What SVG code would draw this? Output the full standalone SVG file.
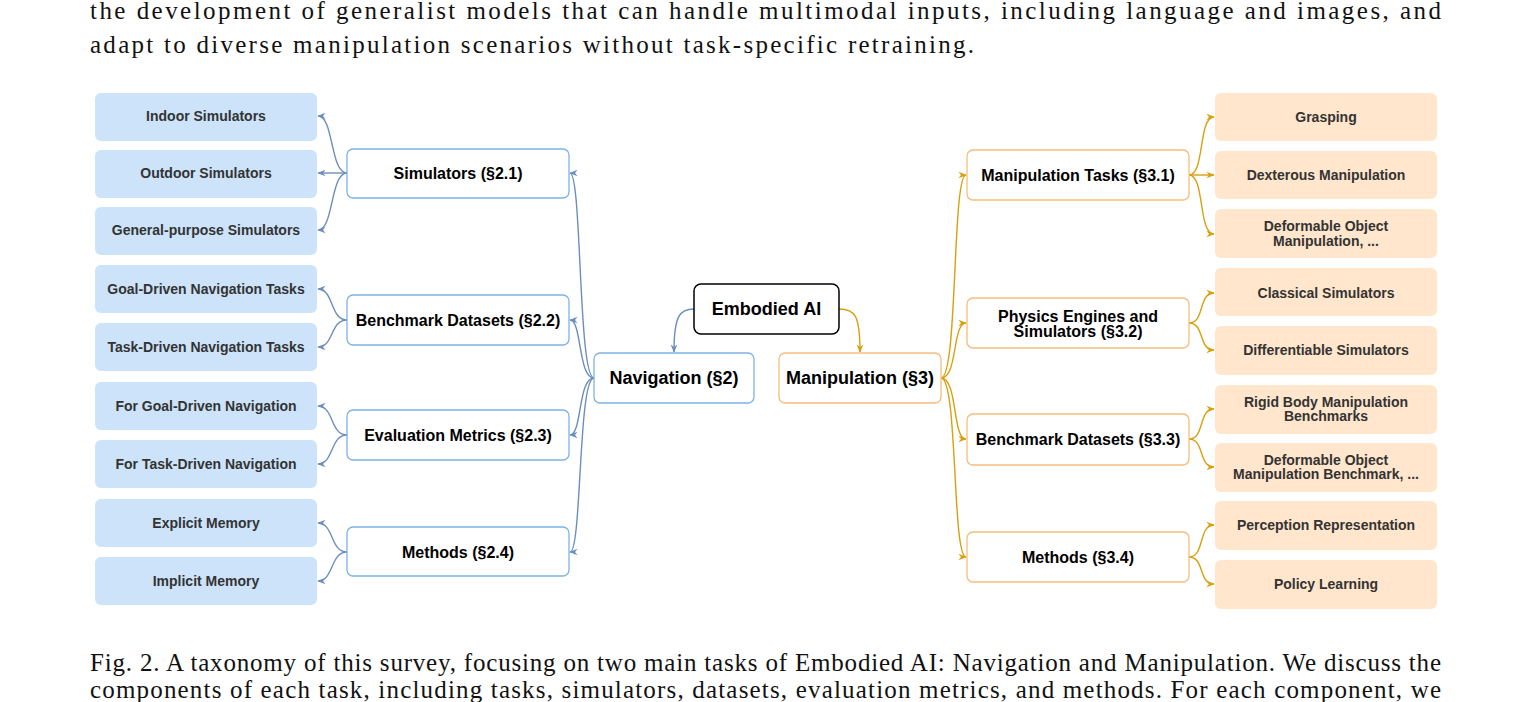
<svg xmlns="http://www.w3.org/2000/svg" width="1532" height="702" viewBox="0 0 1532 702">
<style>
.body{font-family:"Liberation Serif",serif;font-size:25px;fill:#111}
.t{font-family:"Liberation Sans",Arial,sans-serif;font-weight:bold;text-anchor:middle;dominant-baseline:central}
.lf{font-size:14px;fill:#333}
.md{font-size:16px;fill:#000}
.bl{fill:#cce3fa;stroke:none}
.ol{fill:#ffe6cc;stroke:none}
.bm{fill:#fff;stroke:#7eb3e6;stroke-width:1.3}
.om{fill:#fff;stroke:#f5bd7c;stroke-width:1.3}
.cb{fill:none;stroke:#6c8ebf;stroke-width:1.4}
.co{fill:none;stroke:#d6a10f;stroke-width:1.4}
</style>
<defs>
<marker id="ab" viewBox="0 0 10 10" refX="9" refY="5" markerWidth="6" markerHeight="6" orient="auto"><path d="M0,1 L10,5 L0,9 L3,5z" fill="#6c8ebf"/></marker>
<marker id="ao" viewBox="0 0 10 10" refX="9" refY="5" markerWidth="6" markerHeight="6" orient="auto"><path d="M0,1 L10,5 L0,9 L3,5z" fill="#d6a10f"/></marker>
</defs>
<text class="body" x="90" y="19" textLength="1351" lengthAdjust="spacing">the development of generalist models that can handle multimodal inputs, including language and images, and</text>
<text class="body" x="90" y="53" textLength="884" lengthAdjust="spacing">adapt to diverse manipulation scenarios without task-specific retraining.</text>
<text class="body" x="90" y="671" textLength="1351" lengthAdjust="spacing">Fig. 2.  A taxonomy of this survey, focusing on two main tasks of Embodied AI: Navigation and Manipulation. We discuss the</text>
<text class="body" x="90" y="698" textLength="1351" lengthAdjust="spacing">components of each task, including tasks, simulators, datasets, evaluation metrics, and methods. For each component, we</text>

<g id="connectors">
<path class="cb" d="M694,309 C680,309 674,315 674,352" marker-end="url(#ab)"/>
<path class="co" d="M839,309 C855,309 860,315 860,352" marker-end="url(#ao)"/>
<path class="cb" d="M594,378 C578,378 582,173 570,173" marker-end="url(#ab)"/>
<path class="cb" d="M594,378 C578,378 582,320 570,320" marker-end="url(#ab)"/>
<path class="cb" d="M594,378 C578,378 582,435 570,435" marker-end="url(#ab)"/>
<path class="cb" d="M594,378 C578,378 582,552 570,552" marker-end="url(#ab)"/>
<path class="cb" d="M347,173 C330,173 334,116 318,116" marker-end="url(#ab)"/>
<path class="cb" d="M347,173 L318,173" marker-end="url(#ab)"/>
<path class="cb" d="M347,173 C330,173 334,230 318,230" marker-end="url(#ab)"/>
<path class="cb" d="M347,320 C330,320 334,289 318,289" marker-end="url(#ab)"/>
<path class="cb" d="M347,320 C330,320 334,347 318,347" marker-end="url(#ab)"/>
<path class="cb" d="M347,435 C330,435 334,406 318,406" marker-end="url(#ab)"/>
<path class="cb" d="M347,435 C330,435 334,464 318,464" marker-end="url(#ab)"/>
<path class="cb" d="M347,552 C330,552 334,523 318,523" marker-end="url(#ab)"/>
<path class="cb" d="M347,552 C330,552 334,581 318,581" marker-end="url(#ab)"/>
<path class="co" d="M941,378 C958,378 952,175 966,175" marker-end="url(#ao)"/>
<path class="co" d="M941,378 C958,378 952,323 966,323" marker-end="url(#ao)"/>
<path class="co" d="M941,378 C958,378 952,439 966,439" marker-end="url(#ao)"/>
<path class="co" d="M941,378 C958,378 952,557 966,557" marker-end="url(#ao)"/>
<path class="co" d="M1189,175 C1205,175 1198,117 1214,117" marker-end="url(#ao)"/>
<path class="co" d="M1189,175 L1214,175" marker-end="url(#ao)"/>
<path class="co" d="M1189,175 C1205,175 1198,234 1214,234" marker-end="url(#ao)"/>
<path class="co" d="M1189,323 C1205,323 1198,293 1214,293" marker-end="url(#ao)"/>
<path class="co" d="M1189,323 C1205,323 1198,350 1214,350" marker-end="url(#ao)"/>
<path class="co" d="M1189,439 C1205,439 1198,409 1214,409" marker-end="url(#ao)"/>
<path class="co" d="M1189,439 C1205,439 1198,467 1214,467" marker-end="url(#ao)"/>
<path class="co" d="M1189,557 C1205,557 1198,525 1214,525" marker-end="url(#ao)"/>
<path class="co" d="M1189,557 C1205,557 1198,584 1214,584" marker-end="url(#ao)"/>
</g>

<g id="embodied"><rect x="694" y="284" width="145" height="50" rx="7" fill="#fff" stroke="#000" stroke-width="1.5"/><text class="t" x="766.5" y="309" font-size="18">Embodied AI</text></g>
<g id="navigation"><rect class="bm" x="594" y="353" width="160" height="50" rx="6"/><text class="t" x="674" y="378" font-size="18">Navigation (§2)</text></g>
<g id="manipulation"><rect class="om" x="779" y="353" width="162" height="50" rx="6"/><text class="t" x="860" y="378" font-size="18">Manipulation (§3)</text></g>

<g id="n-sim"><rect class="bm" x="347" y="149" width="222" height="49" rx="6"/><text class="t md" x="458" y="173">Simulators (§2.1)</text></g>
<g id="n-bench"><rect class="bm" x="347" y="295" width="222" height="50" rx="6"/><text class="t md" x="458" y="320">Benchmark Datasets (§2.2)</text></g>
<g id="n-eval"><rect class="bm" x="347" y="410" width="222" height="50" rx="6"/><text class="t md" x="458" y="435">Evaluation Metrics (§2.3)</text></g>
<g id="n-meth"><rect class="bm" x="347" y="527" width="222" height="49" rx="6"/><text class="t md" x="458" y="552">Methods (§2.4)</text></g>

<g id="l-indoor"><rect class="bl" x="95" y="93" width="222" height="48" rx="6"/><text class="t lf" x="206" y="116">Indoor Simulators</text></g>
<g id="l-outdoor"><rect class="bl" x="95" y="150" width="222" height="48" rx="6"/><text class="t lf" x="206" y="173">Outdoor Simulators</text></g>
<g id="l-general"><rect class="bl" x="95" y="207" width="222" height="48" rx="6"/><text class="t lf" x="206" y="230">General-purpose Simulators</text></g>
<g id="l-goal"><rect class="bl" x="95" y="265" width="222" height="48" rx="6"/><text class="t lf" x="206" y="289">Goal-Driven Navigation Tasks</text></g>
<g id="l-task"><rect class="bl" x="95" y="323" width="222" height="48" rx="6"/><text class="t lf" x="206" y="347">Task-Driven Navigation Tasks</text></g>
<g id="l-fgoal"><rect class="bl" x="95" y="382" width="222" height="48" rx="6"/><text class="t lf" x="206" y="406">For Goal-Driven Navigation</text></g>
<g id="l-ftask"><rect class="bl" x="95" y="440" width="222" height="48" rx="6"/><text class="t lf" x="206" y="464">For Task-Driven Navigation</text></g>
<g id="l-explicit"><rect class="bl" x="95" y="499" width="222" height="48" rx="6"/><text class="t lf" x="206" y="523">Explicit Memory</text></g>
<g id="l-implicit"><rect class="bl" x="95" y="557" width="222" height="48" rx="6"/><text class="t lf" x="206" y="581">Implicit Memory</text></g>

<g id="m-tasks"><rect class="om" x="967" y="150" width="222" height="50" rx="6"/><text class="t md" x="1078" y="175">Manipulation Tasks (§3.1)</text></g>
<g id="m-phys"><rect class="om" x="967" y="298" width="222" height="50" rx="6"/><text class="t md" x="1078" y="316">Physics Engines and</text><text class="t md" x="1078" y="331">Simulators (§3.2)</text></g>
<g id="m-bench"><rect class="om" x="967" y="414" width="222" height="51" rx="6"/><text class="t md" x="1078" y="439">Benchmark Datasets (§3.3)</text></g>
<g id="m-meth"><rect class="om" x="967" y="532" width="222" height="50" rx="6"/><text class="t md" x="1078" y="557">Methods (§3.4)</text></g>

<g id="r-grasp"><rect class="ol" x="1215" y="93" width="222" height="48" rx="6"/><text class="t lf" x="1326" y="117">Grasping</text></g>
<g id="r-dex"><rect class="ol" x="1215" y="151" width="222" height="48" rx="6"/><text class="t lf" x="1326" y="175">Dexterous Manipulation</text></g>
<g id="r-deform"><rect class="ol" x="1215" y="209" width="222" height="49" rx="6"/><text class="t lf" x="1326" y="226">Deformable Object</text><text class="t lf" x="1326" y="241">Manipulation, ...</text></g>
<g id="r-class"><rect class="ol" x="1215" y="268" width="222" height="48" rx="6"/><text class="t lf" x="1326" y="293">Classical Simulators</text></g>
<g id="r-diff"><rect class="ol" x="1215" y="326" width="222" height="49" rx="6"/><text class="t lf" x="1326" y="350">Differentiable Simulators</text></g>
<g id="r-rigid"><rect class="ol" x="1215" y="385" width="222" height="49" rx="6"/><text class="t lf" x="1326" y="402">Rigid Body Manipulation</text><text class="t lf" x="1326" y="416">Benchmarks</text></g>
<g id="r-defb"><rect class="ol" x="1215" y="443" width="222" height="49" rx="6"/><text class="t lf" x="1326" y="460">Deformable Object</text><text class="t lf" x="1326" y="474">Manipulation Benchmark, ...</text></g>
<g id="r-perc"><rect class="ol" x="1215" y="501" width="222" height="49" rx="6"/><text class="t lf" x="1326" y="525">Perception Representation</text></g>
<g id="r-policy"><rect class="ol" x="1215" y="560" width="222" height="49" rx="6"/><text class="t lf" x="1326" y="584">Policy Learning</text></g>
</svg>
